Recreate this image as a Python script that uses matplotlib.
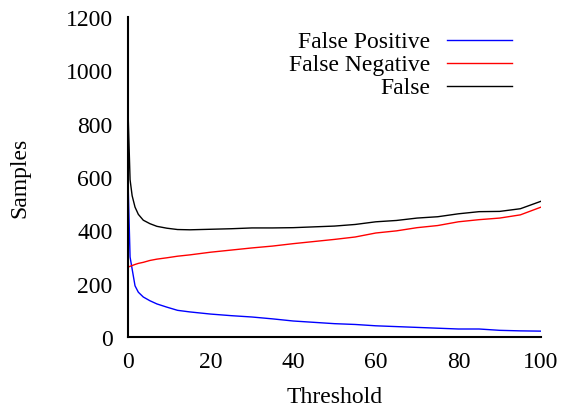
import matplotlib
matplotlib.use("Agg")
import matplotlib.pyplot as plt
from matplotlib.lines import Line2D

plt.rcParams['font.family'] = ['Liberation Serif', 'DejaVu Serif']

threshold = [0, 0.5, 1, 1.7, 2.5, 3.7, 5.3, 7, 9.4, 12, 15, 20, 25, 30, 35, 40,
             45, 50, 55, 60, 65, 70, 75, 80, 85, 90, 95, 100]
false_positive = [590, 300, 255, 192, 168, 150, 136, 124, 112, 100, 94, 86, 80, 75,
                  68, 60, 55, 50, 47, 42, 39, 36, 33, 30, 30, 25, 23, 22]
false_negative = [262, 265, 268, 272, 276, 280, 287, 292, 297, 303, 308, 318, 326,
                  334, 341, 350, 358, 366, 375, 390, 398, 410, 418, 432, 440, 446,
                  458, 487]
false_total = [850, 590, 530, 487, 460, 438, 425, 415, 408, 403, 402, 404, 406, 409,
               409, 410, 413, 416, 422, 432, 437, 446, 451, 462, 470, 471, 481, 509]

labels = ["False Positive", "False Negative", "False"]
colors = ["#0000ff", "#ff0000", "#000000"]
xticks = [0, 20, 40, 60, 80, 100]
yticks = [0, 200, 400, 600, 800, 1000, 1200]

fig = plt.figure(figsize=(5.63, 4.10), dpi=100)
ax = fig.add_axes([128/563, 1-338/410, (541-128)/563, (338-18)/410])

series = [false_positive, false_negative, false_total]
for s, c in zip(series, colors):
    ax.plot(threshold, s, color=c, lw=1.0)

ax.set_xlim(0, 100)
ax.set_ylim(0, 1200)
ax.set_xticks(xticks)
ax.set_yticks(yticks)
ax.tick_params(length=0, labelsize=17, pad=10)
ax.tick_params(axis='y', pad=11)
for side in ['top', 'right']:
    ax.spines[side].set_visible(False)
for side in ['left', 'bottom']:
    ax.spines[side].set_linewidth(1.5)

ax.set_xlabel("Threshold", fontsize=17, labelpad=10)
ax.set_ylabel("Samples", fontsize=17, labelpad=25)

# legend (gnuplot style: right-aligned text, sample to the right)
rows_y = [41, 64, 87]
for lab, c, yp in zip(labels, colors, rows_y):
    yf = 1 - yp/410
    fig.text(430/563, yf - 2/410, lab, ha='right', va='center', fontsize=17)
    fig.add_artist(Line2D([447/563, 512/563], [yf, yf], color=c, lw=1.0,
                          transform=fig.transFigure))

fig.savefig("out.png", dpi=100)
